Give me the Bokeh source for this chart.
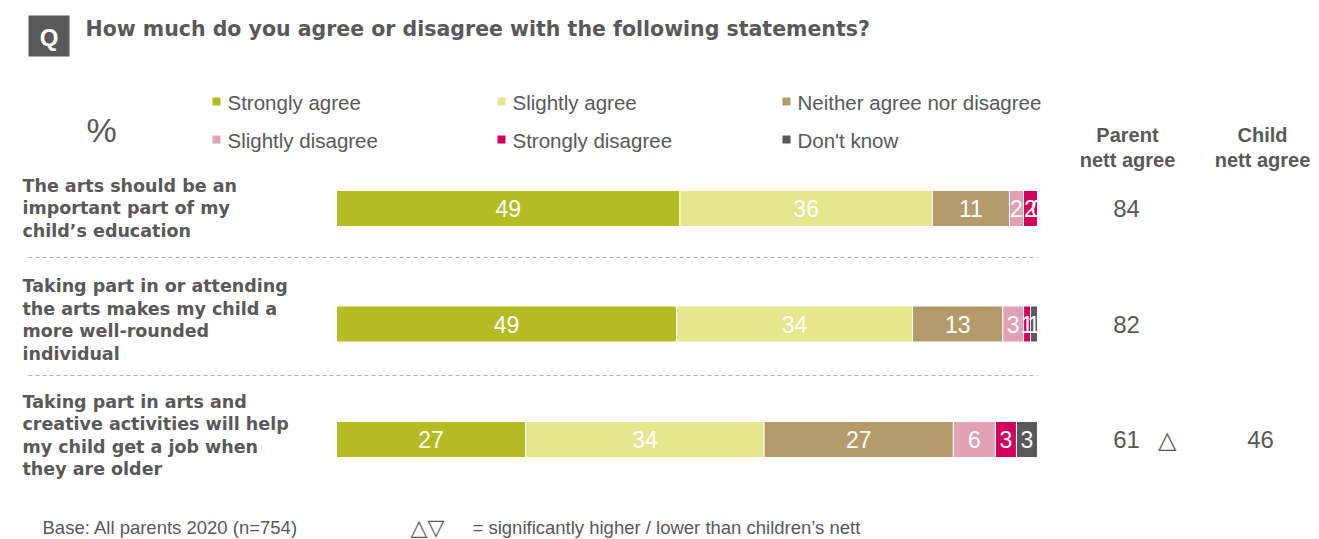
import numpy as np
from bokeh.plotting import figure
from bokeh.models import Range1d, ColumnDataSource
from bokeh.core.properties import value
from bokeh.embed import file_html
from bokeh.resources import INLINE

# ---------------- data ----------------
questions = [
    "The arts should be an\nimportant part of my\nchild\u2019s education",
    "Taking part in or attending\nthe arts makes my child a\nmore well-rounded\nindividual",
    "Taking part in arts and\ncreative activities will help\nmy child get a job when\nthey are older",
]
segments = ["Strongly agree", "Slightly agree", "Neither agree nor disagree",
            "Slightly disagree", "Strongly disagree", "Don't know"]
strongly_agree = [49, 49, 27]
slightly_agree = [36, 34, 34]
neither = [11, 13, 27]
slightly_disagree = [2, 3, 6]
strongly_disagree = [2, 1, 3]
dont_know = [0, 1, 3]
parent_nett = ["84", "82", "61"]
child_nett = ["", "", "46"]
sig_marks = ["", "", "\u25b3"]
colors = ["#b5bb23", "#e6e68c", "#b59b6b", "#e3a1b5", "#d4005e", "#595959"]

title = "How much do you agree or disagree with the following statements?"
base_note = "Base: All parents 2020 (n=754)"
sig_note = "= significantly higher / lower than children\u2019s nett"

GREY = "#595959"
W, H = 1319, 539

p = figure(width=W, height=H, x_range=Range1d(-47.93, 140.23),
           y_range=Range1d(2.8658, -1.8009), output_backend="svg",
           toolbar_location=None, min_border=0,
           x_axis_location=None, y_axis_location=None)
p.extra_x_ranges = {"px": Range1d(0, W)}
p.extra_y_ranges = {"px": Range1d(H, 0)}
p.grid.visible = False
p.outline_line_color = None
p.background_fill_color = "white"

# ---------------- bars ----------------
vals = np.array([strongly_agree, slightly_agree, neither,
                 slightly_disagree, strongly_disagree, dont_know], dtype=float)
totals = vals.sum(axis=0)
norm = vals / totals * 100
rights = np.cumsum(norm, axis=0)
lefts = rights - norm
rows = np.arange(len(questions))

for i, seg in enumerate(segments):
    src = ColumnDataSource(dict(
        y=rows, left=lefts[i], right=rights[i],
        mid=(lefts[i] + rights[i]) / 2,
        label=[str(int(v)) for v in vals[i]]))
    p.hbar(y="y", left="left", right="right", height=0.312, source=src,
           fill_color=colors[i], line_color="white", line_width=1)
    p.text(x="mid", y="y", text="label", source=src, text_color="white",
           text_font=value("Liberation Sans"), text_font_size="23px",
           text_align="center", text_baseline="middle")

# question labels
qsrc = ColumnDataSource(dict(x=[22] * len(questions), y=[0.0, -0.035, -0.035], text=questions))
qsrc.data["y"] = rows + np.array(qsrc.data["y"])
p.text(x="x", y="y", text="text", source=qsrc, x_range_name="px",
       text_font=value("DejaVu Sans"), text_font_style="bold",
       text_font_size="17.5px", text_color=GREY, text_line_height=1.13,
       text_align="left", text_baseline="middle")

# nett columns
nsrc = ColumnDataSource(dict(y=rows, parent=parent_nett, child=child_nett, sig=sig_marks,
                             xp=[1126] * 3, xs=[1166] * 3, xc=[1260] * 3))
for col, xcol in (("parent", "xp"), ("sig", "xs"), ("child", "xc")):
    p.text(x=xcol, y="y", text=col, source=nsrc, x_range_name="px",
           text_font=value("Liberation Sans"), text_font_size="24px",
           text_color=GREY, text_align="center", text_baseline="middle")

# separators
p.segment(x0=[28, 28], x1=[1037, 1037], y0=[257, 375], y1=[257, 375],
          x_range_name="px", y_range_name="px", line_color="#b0b0b0",
          line_width=1.2, line_dash="4 3")

# ---------------- header & decorations ----------------
p.rect(x=[48.5], y=[35.5], width=41, height=41, x_range_name="px",
       y_range_name="px", fill_color=GREY, line_color=None)
p.text(x=[48.5], y=[36.5], text=["Q"], x_range_name="px", y_range_name="px",
       text_font=value("Liberation Sans"), text_font_style="bold",
       text_font_size="24px", text_color="white", text_align="center",
       text_baseline="middle")
p.text(x=[85], y=[28], text=[title], x_range_name="px", y_range_name="px",
       text_font=value("DejaVu Sans"), text_font_style="bold",
       text_font_size="20.5px", text_color=GREY, text_align="left",
       text_baseline="middle")
p.text(x=[101], y=[129], text=["%"], x_range_name="px", y_range_name="px",
       text_font=value("Liberation Sans"), text_font_size="34px",
       text_color=GREY, text_align="center", text_baseline="middle")

# legend
leg_x = [212, 497, 782, 212, 497, 782]
leg_y = [101, 101, 101, 139, 139, 139]
leg_order = [0, 1, 2, 3, 4, 5]
p.rect(x=[x + 4 for x in leg_x], y=leg_y, width=8, height=8, x_range_name="px",
       y_range_name="px", fill_color=[colors[i] for i in leg_order], line_color=None)
p.text(x=[x + 15 for x in leg_x], y=[y + 1 for y in leg_y],
       text=[segments[i] for i in leg_order], x_range_name="px", y_range_name="px",
       text_font=value("Liberation Sans"), text_font_size="20.5px",
       text_color=GREY, text_align="left", text_baseline="middle")

# column headers
p.text(x=[1127, 1262], y=[147, 147], text=["Parent\nnett agree", "Child\nnett agree"],
       x_range_name="px", y_range_name="px",
       text_font=value("Liberation Sans"), text_font_style="bold",
       text_font_size="20px", text_color=GREY, text_align="center",
       text_baseline="middle", text_line_height=1.175)

# footer
p.text(x=[42], y=[527], text=[base_note], x_range_name="px", y_range_name="px",
       text_font=value("Liberation Sans"), text_font_size="18.5px",
       text_color=GREY, text_align="left", text_baseline="middle")
p.text(x=[410], y=[527], text=["\u25b3\u25bd"], x_range_name="px", y_range_name="px",
       text_font=value("DejaVu Sans"), text_font_size="22px",
       text_color=GREY, text_align="left", text_baseline="middle")
p.text(x=[472], y=[527], text=[sig_note], x_range_name="px", y_range_name="px",
       text_font=value("Liberation Sans"), text_font_size="18.5px",
       text_color=GREY, text_align="left", text_baseline="middle")

open("out.html", "w").write(file_html(p, INLINE))
